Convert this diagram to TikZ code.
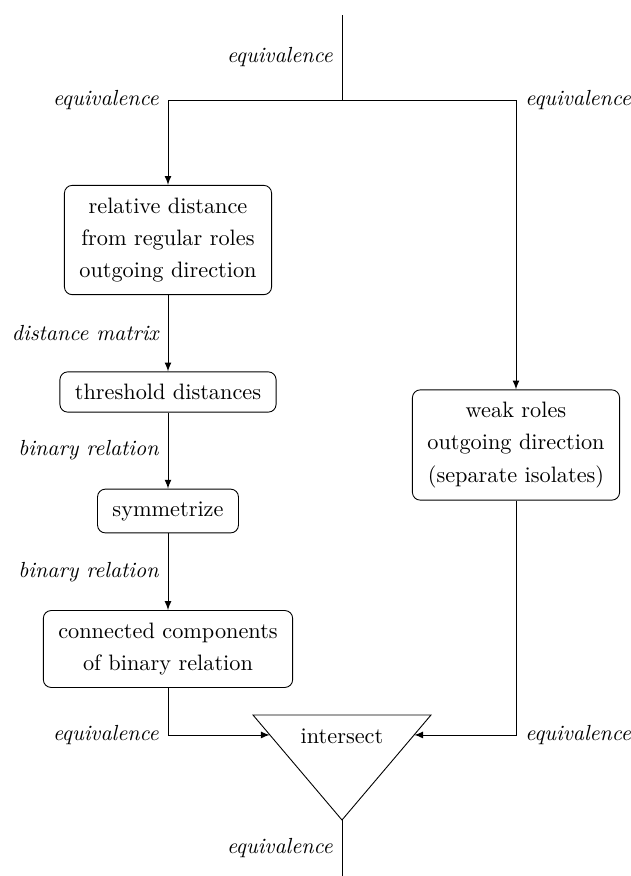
\documentclass[tikz,border=0pt]{standalone}
\usetikzlibrary{calc,arrows}
\begin{document}
\begin{tikzpicture}[x=0.4484pt,y=-0.4484pt,
  proc/.style={draw,rounded corners=3.5pt,align=center,inner xsep=6.7pt,inner ysep=5.5pt,font=\fontsize{10}{14.5}\selectfont},
  lbl/.style={font=\fontsize{9.8}{11}\selectfont\itshape,inner sep=4pt},
  conn/.style={-latex}]
\useasboundingbox (0,0) rectangle (631,876);
\coordinate (top) at (342,15);
\coordinate (split) at (342,100);
\node[proc] (rel) at (168,240) {relative distance\\from regular roles\\outgoing direction};
\node[proc] (thr) at (168,392) {threshold distances};
\node[proc] (sym) at (168,511) {symmetrize};
\node[proc] (cc) at (168,649) {connected components\\of binary relation};
\node[proc] (weak) at (516,445) {weak roles\\outgoing direction\\(separate isolates)};
\coordinate (tl) at (253,715);
\coordinate (tr) at (431,715);
\coordinate (ap) at (342,820);
\draw (tl) -- (tr) -- (ap) -- cycle;
\node (isect) at (342,736) {intersect};
\coordinate (inL) at ($(tl)!0.19!(ap)$);
\coordinate (inR) at ($(tr)!0.19!(ap)$);
\coordinate (bot) at (342,876);
\draw (top) -- node[lbl,left] {equivalence} (split);
\draw[conn] (split) -| (rel.north);
\draw[conn] (split) -| (weak.north);
\node[lbl,left] at (rel.north |- split) {equivalence};
\node[lbl,right] at (weak.north |- split) {equivalence};
\draw[conn] (rel) -- node[lbl,left] {distance matrix} (thr);
\draw[conn] (thr) -- node[lbl,left] {binary relation} (sym);
\draw[conn] (sym) -- node[lbl,left] {binary relation} (cc);
\draw[conn] (cc.south) |- (inL);
\draw[conn] (weak.south) |- (inR);
\node[lbl,left] at (cc.south |- inL) {equivalence};
\node[lbl,right] at (weak.south |- inR) {equivalence};
\draw (ap) -- node[lbl,left] {equivalence} (bot);
\end{tikzpicture}
\end{document}
